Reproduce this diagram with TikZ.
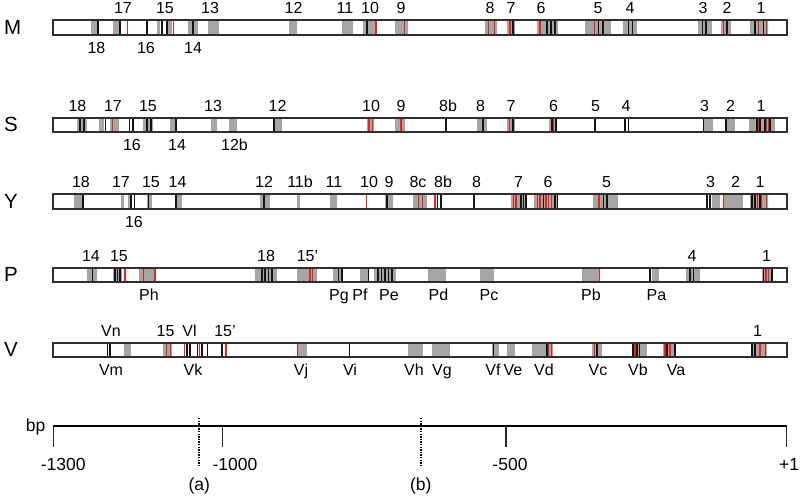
\documentclass[tikz,border=0pt]{standalone}
\usepackage{fontspec}
\setmainfont{Liberation Sans}
\definecolor{bandgray}{HTML}{A6A6A6}
\definecolor{mkred}{HTML}{E8221E}
\definecolor{barline}{HTML}{2E2E2E}
\tikzset{
  gband/.style={fill=bandgray},
  bline/.style={draw=black!92, line width=1.6pt},
  rline/.style={draw=mkred, line width=1.4pt},
  barbox/.style={draw=barline, line width=2.2pt},
  lab/.style={font=\fontsize{16}{16}\selectfont, inner sep=0pt, anchor=base},
  rowname/.style={font=\fontsize{20.5}{20.5}\selectfont, inner sep=0pt, anchor=base west},
  axlab/.style={font=\fontsize{17.5}{17.5}\selectfont, inner sep=0pt, anchor=base},
  axline/.style={draw=black, line width=2.8pt},
  axtick/.style={draw=black!85, line width=1.1pt},
  cutline/.style={draw=black, line width=1.9pt, dash pattern=on 1.3pt off 1.3pt},
}
\newcommand{\mkG}[2]{\fill[gband] (#1,\rt) rectangle (#2,\rb);}
\newcommand{\mkB}[1]{\draw[bline] (#1,\rt) -- (#1,\rb);}
\newcommand{\mkR}[1]{\draw[rline] (#1,\rt) -- (#1,\rb);}
\newcounter{lbl}
\newcommand{\labA}[2]{\stepcounter{lbl}\node[lab] (lbl\arabic{lbl}) at (#1,\rt-6.5) {#2};}
\newcommand{\labB}[2]{\stepcounter{lbl}\node[lab] (lbl\arabic{lbl}) at (#1,\rb+18.5) {#2};}
\newcommand{\barframe}[1]{\draw[barbox] (53.3,\rt) rectangle (786.7,\rb);
  \node[rowname] (name#1) at (4,\rb-0.3) {#1};}
\begin{document}
\begin{tikzpicture}[x=1pt,y=-1pt]
\useasboundingbox (0,0) rectangle (800,496);
% ---------------- M
\def\rt{20.3}\def\rb{35}
\foreach \a/\b in {90.7/96.7, 113/119, 156.7/160, 168/172, 187.7/198.3, 208/219, 289/297, 342/353, 363/377, 395/408, 485/496.7, 506.7/515, 536.7/558.3, 585/610.7, 622.7/637.3, 697.7/712.3, 720.7/730.7, 750/768.3} {\mkG{\a}{\b}}
\foreach \x in {97.7, 120, 146.7, 161.7, 166.7, 192.7, 366.7, 512.7, 546.7, 550.7, 554.7, 598.3, 602.7, 628.3, 632.3, 702.3, 706, 726.7, 755, 763.3} {\mkB{\x}}
\foreach \x in {127.7, 173.3, 376, 404.3, 488.3, 494.3, 510, 540, 594.3, 723.3, 758.3, 766.7} {\mkR{\x}}
\barframe{M}
\foreach \x/\t in {123/17, 165/15, 210/13, 293.5/12, 345/11, 370/10, 401/9, 490/8, 511/7, 541/6, 598/5, 630/4, 703/3, 727/2, 761/1} {\labA{\x}{\t}}
\foreach \x/\t in {96.5/18, 146/16, 193/14} {\labB{\x}{\t}}
% ---------------- S
\def\rt{117.7}\def\rb{131.7}
\foreach \a/\b in {77.3/87.3, 99/104, 110/119, 142.7/153.3, 170/176.7, 210.7/217.3, 229.3/236.7, 274/281.7, 367/374, 395/405, 476.7/487.3, 507.3/515, 549.3/556.7, 702.7/712.7, 725/735, 749.3/775} {\mkG{\a}{\b}}
\foreach \x in {80, 84, 105.3, 129.3, 132.7, 146.7, 150.7, 175.7, 274, 446, 482.7, 512.7, 551.7, 555.7, 595, 625, 628.3, 703.3, 725.7, 756.7, 760, 765, 770} {\mkB{\x}}
\foreach \x in {112.7, 369, 372.3, 401, 509.3, 553.3, 758.3, 766.7, 768.3} {\mkR{\x}}
\barframe{S}
\foreach \x/\t in {77.5/18, 113/17, 148/15, 213/13, 277.5/12, 371/10, 401/9, 448/8b, 480.5/8, 511/7, 553.5/6, 595.5/5, 626/4, 704.5/3, 730.5/2, 761/1} {\labA{\x}{\t}}
\foreach \x/\t in {132/16, 177/14, 234.5/12b} {\labB{\x}{\t}}
% ---------------- Y
\def\rt{194.3}\def\rb{209}
\foreach \a/\b in {74/83.3, 121/124.3, 128.3/131.7, 146.7/151.7, 175/181.7, 260/270, 296.7/300, 330/336.7, 385/393.3, 413.3/426.7, 510.7/526.7, 534/558.3, 592.7/618.3, 711.7/720, 722.7/743.3, 750/768} {\mkG{\a}{\b}}
\foreach \x in {82.7, 131, 134.3, 148.3, 175.7, 264, 386.7, 437.3, 440.7, 474, 520.7, 523.3, 526, 543.3, 555, 557.3, 603.3, 606.7, 706.7, 710, 751.7, 755, 760} {\mkB{\x}}
\foreach \x in {366.7, 418.3, 422.7, 435, 513.3, 516, 537.7, 540, 546, 548.3, 551.7, 599, 723.3, 757.7, 761.7, 766.7} {\mkR{\x}}
\barframe{Y}
\foreach \x/\t in {81/18, 121/17, 151/15, 177.5/14, 264/12, 300/11b, 334/11, 369/10, 389/9, 418/8c, 443/8b, 476.5/8, 518.5/7, 548/6, 606.5/5, 710.5/3, 735.5/2, 760/1} {\labA{\x}{\t}}
\foreach \x/\t in {134/16} {\labB{\x}{\t}}
% ---------------- P
\def\rt{268.3}\def\rb{282}
\foreach \a/\b in {87.3/97.3, 113/122, 139.3/156, 255/276.7, 296.7/316.7, 333.3/343.3, 360/368.3, 374/396, 428.3/446, 480/494, 581.7/600, 651.7/659.3, 686/700, 761.7/771.7} {\mkG{\a}{\b}}
\foreach \x in {92.3, 115, 117.3, 120, 261.7, 265, 268.3, 271.7, 338.3, 341.7, 368.3, 378, 381.5, 385, 388.5, 392, 650, 690, 693.3, 763.3, 771.7} {\mkB{\x}}
\foreach \x in {125, 143.3, 155, 310, 312.7, 599.3, 766, 768.3} {\mkR{\x}}
\barframe{P}
\foreach \x/\t in {91/14, 119/15, 266/18, 307.5/15', 692/4, 766.5/1} {\labA{\x}{\t}}
\foreach \x/\t in {149/Ph, 339/Pg, 360/Pf, 389/Pe, 438.5/Pd, 489/Pc, 591/Pb, 656.5/Pa} {\labB{\x}{\t}}
% ---------------- V
\def\rt{342.7}\def\rb{356.7}
\foreach \a/\b in {124/131, 163/172, 296.7/306.7, 408.3/423.3, 431.7/450, 491.7/499.3, 507/515, 531.7/553.3, 591.7/601.7, 631.7/646.7, 663/676, 752/767} {\mkG{\a}{\b}}
\foreach \x in {107.3, 110, 186.7, 190, 197.3, 201.7, 207.3, 221.7, 349.3, 493.3, 546.7, 596.7, 632.7, 636.7, 639.3, 666.7, 675, 751.7, 755} {\mkB{\x}}
\foreach \x in {166.7, 170.7, 184.3, 199.3, 226, 297.7, 548.3, 551.7, 594.3, 635, 665, 670, 760, 765.7} {\mkR{\x}}
\barframe{V}
\foreach \x/\t in {111/Vn, 165.5/15, 189.5/Vl, 225/15', 757.5/1} {\labA{\x}{\t}}
\foreach \x/\t in {111/Vm, 193/Vk, 301/Vj, 350/Vi, 414/Vh, 442/Vg, 493/Vf, 513/Ve, 544/Vd, 598/Vc, 638/Vb, 676/Va} {\labB{\x}{\t}}
% ---------------- axis
\coordinate (axL) at (53.3,426);
\coordinate (axR) at (786.7,426);
\coordinate (tkA) at (53.3,447);
\coordinate (tkBt) at (222.7,426);
\coordinate (tkB) at (222.7,447);
\coordinate (tkCt) at (506,426);
\coordinate (tkC) at (506,447);
\coordinate (tkD) at (786.7,447);
\coordinate (cutAt) at (199.3,418);
\coordinate (cutAb) at (199.3,466.7);
\coordinate (cutBt) at (420.7,418);
\coordinate (cutBb) at (420.7,466.7);
\draw[axtick] (axL) -- (tkA);
\draw[axtick] (tkBt) -- (tkB);
\draw[axtick] (tkCt) -- (tkC);
\draw[axtick] (axR) -- (tkD);
\draw[axline] (axL) -- (axR);
\draw[cutline] (cutAt) -- (cutAb);
\draw[cutline] (cutBt) -- (cutBb);
\node[axlab, anchor=base east] (bp) at (45.5,431.7) {bp};
\node[axlab] (m1300) at (63.3,470) {-1300};
\node[axlab] (m1000) at (235,470) {-1000};
\node[axlab] (m500) at (510,470) {-500};
\node[axlab] (p1) at (789,470) {+1};
\node[axlab] (lba) at (199.3,490) {(a)};
\node[axlab] (lbb) at (420.7,490) {(b)};
\end{tikzpicture}
\end{document}
